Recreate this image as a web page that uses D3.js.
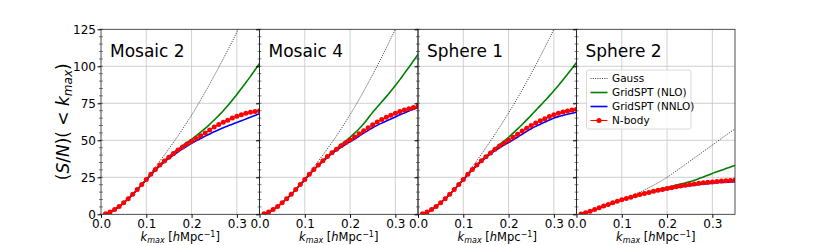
<!DOCTYPE html>
<html>
<head>
<meta charset="utf-8">
<script src="https://cdn.jsdelivr.net/npm/d3@7"></script>
<style>
  body { margin: 0; background: #fff; }
  svg { display: block; font-family: "DejaVu Sans", sans-serif; }
</style>
</head>
<body>
<svg width="817" height="245"></svg>
<script>
// k bins (h/Mpc)
var kmax = [0.01, 0.02, 0.03, 0.04, 0.05, 0.06, 0.07, 0.08, 0.09, 0.10,
            0.11, 0.12, 0.13, 0.14, 0.15, 0.16, 0.17, 0.18, 0.19, 0.20,
            0.21, 0.22, 0.23, 0.24, 0.25, 0.26, 0.27, 0.28, 0.29, 0.30,
            0.31, 0.32, 0.33, 0.34, 0.35];

var panelNames = ["Mosaic 2", "Mosaic 4", "Sphere 1", "Sphere 2"];
var yTicks = [0, 25, 50, 75, 100, 125];
var xTicks = [0.0, 0.1, 0.2, 0.3];

// Mosaic 2
var gauss1 = [0.3, 1.5, 3.2, 5.3, 7.8, 10.6, 13.7, 17.1, 20.6, 24.3, 28.1, 32, 36, 40.1, 44.3, 48.6, 53, 57.5, 62.2, 67, 72, 77.2, 82.5, 88, 93.6, 99.3, 105.1, 111, 117, 123.1, 129.3, 135.6, 142, 148.5, 155];
var nlo1   = [0.3, 1.5, 3.2, 5.3, 7.8, 10.5, 13.5, 16.8, 20.2, 23.5, 27, 30.3, 33.4, 36.3, 39, 41.6, 44, 46.3, 48.5, 50.6, 53, 55.5, 58, 60.8, 63.7, 66.8, 70, 73.5, 77.2, 81, 85, 89, 93.2, 97.5, 102];
var nnlo1  = [0.3, 1.4, 3.1, 5.2, 7.7, 10.4, 13.4, 16.6, 20, 23.2, 26.6, 29.8, 32.8, 35.5, 37.8, 40, 42.2, 44.2, 46.1, 47.9, 49.6, 51.2, 52.8, 54.3, 55.8, 57.2, 58.5, 59.7, 60.9, 62, 63.2, 64.4, 65.6, 66.8, 68];
var nbody1 = [0.3, 1.5, 3.2, 5.3, 7.8, 10.5, 13.5, 16.8, 20.2, 23.5, 27, 30.3, 33.3, 36, 38.5, 41, 43.4, 45.5, 47.5, 49.3, 51.2, 53, 55, 57, 59, 60.7, 62.2, 63.6, 65, 66.3, 67.3, 68.2, 68.9, 69.5, 70];

// Mosaic 4
var gauss2 = [0.3, 1.5, 3.2, 5.3, 7.8, 10.6, 13.7, 17.1, 20.6, 24.3, 28.1, 32, 36, 40.1, 44.3, 48.6, 53, 57.6, 62.4, 67.3, 72.4, 77.7, 83.1, 88.7, 94.4, 100.3, 106.3, 112.4, 118.7, 125, 131.4, 137.9, 144.5, 151.2, 158];
var nlo2   = [0.3, 1.5, 3.2, 5.3, 7.8, 10.5, 13.5, 16.8, 20.2, 23.5, 27, 30.3, 33.4, 36.4, 39.2, 41.9, 44.5, 47, 49.5, 52, 54.8, 57.8, 61.2, 65, 69, 72.5, 76, 79.5, 83.2, 87, 91, 95.2, 99.4, 103.7, 108];
var nnlo2  = [0.3, 1.4, 3.1, 5.2, 7.7, 10.4, 13.4, 16.6, 20, 23.2, 26.8, 30, 33, 35.8, 38.5, 41, 43.2, 45.3, 47.2, 49, 50.8, 52.8, 54.8, 56.7, 58.5, 60.1, 61.6, 63, 64.4, 65.8, 67.2, 68.5, 69.8, 71, 72.3];
var nbody2 = [0.3, 1.5, 3.2, 5.3, 7.8, 10.5, 13.5, 16.8, 20.2, 23.5, 27, 30.3, 33.3, 36.2, 39, 41.6, 44, 46.3, 48.3, 50.2, 52.3, 54.4, 56.5, 58.5, 60.5, 62.3, 64, 65.5, 66.9, 68.2, 69.4, 70.5, 71.4, 72.2, 73];

// Sphere 1
var gauss3 = [0.3, 1.5, 3.2, 5.3, 7.8, 10.6, 13.7, 17.1, 20.6, 24.3, 28.2, 32.2, 36.3, 40.6, 45, 49.5, 54.1, 58.8, 63.6, 68.5, 73.5, 78.7, 84, 89.5, 95.1, 100.8, 106.7, 112.7, 118.8, 125, 131.3, 137.7, 144.2, 150.8, 157.5];
var nlo3   = [0.3, 1.5, 3.2, 5.3, 7.8, 10.5, 13.5, 16.8, 20.2, 23.5, 27, 30.3, 33.4, 36.4, 39.2, 41.9, 44.5, 47, 49.5, 52, 54.8, 57.7, 60.7, 63.8, 67, 70.2, 73.4, 76.7, 80, 83.5, 87, 90.8, 94.6, 98.5, 102.5];
var nnlo3  = [0.3, 1.4, 3.1, 5.2, 7.7, 10.4, 13.4, 16.6, 20, 23.2, 26.7, 29.9, 32.9, 35.7, 38.3, 40.8, 43, 45, 46.8, 48.5, 50.3, 52.2, 54.1, 56, 57.8, 59.4, 60.9, 62.3, 63.7, 65, 66, 66.8, 67.6, 68.3, 69];
var nbody3 = [0.3, 1.5, 3.2, 5.3, 7.8, 10.5, 13.5, 16.8, 20.2, 23.5, 27, 30.3, 33.3, 36.2, 38.9, 41.5, 43.9, 46.1, 48.1, 50, 52, 54.1, 56.2, 58.2, 60, 61.7, 63.2, 64.6, 66, 67.3, 68.3, 69.1, 69.8, 70.4, 71];

// Sphere 2
var gauss4 = [0.2, 1, 2, 3.2, 4.5, 5.6, 6.8, 7.9, 9, 10.1, 11.2, 12.4, 13.7, 15, 16.5, 18, 19.6, 21.3, 23.1, 25, 27.1, 29.2, 31.4, 33.6, 35.8, 38, 40.2, 42.4, 44.6, 46.8, 49, 51.2, 53.4, 55.6, 57.7];
var nlo4   = [0.2, 1, 2, 3.2, 4.5, 5.6, 6.7, 7.8, 8.8, 9.8, 10.8, 11.7, 12.6, 13.5, 14.3, 15.1, 15.9, 16.6, 17.4, 18.2, 19, 19.7, 20.4, 21.2, 22, 23, 24.1, 25.2, 26.4, 27.6, 28.7, 29.8, 30.9, 32, 33];
var nnlo4  = [0.2, 1, 2, 3.2, 4.4, 5.5, 6.6, 7.7, 8.7, 9.7, 10.6, 11.5, 12.3, 13.1, 13.9, 14.6, 15.2, 15.8, 16.4, 17, 17.5, 18, 18.5, 18.9, 19.3, 19.7, 20.1, 20.4, 20.7, 21, 21.3, 21.5, 21.7, 21.9, 22];
var nbody4 = [0.2, 1, 2, 3.2, 4.5, 5.6, 6.7, 7.8, 8.8, 9.8, 10.7, 11.6, 12.5, 13.3, 14.1, 14.8, 15.5, 16.2, 16.8, 17.4, 18, 18.6, 19.1, 19.6, 20.1, 20.5, 20.9, 21.3, 21.6, 21.9, 22.2, 22.5, 22.7, 22.9, 23.1];

var panels = [
  {name: panelNames[0], gauss: gauss1, nlo: nlo1, nnlo: nnlo1, nbody: nbody1},
  {name: panelNames[1], gauss: gauss2, nlo: nlo2, nnlo: nnlo2, nbody: nbody2},
  {name: panelNames[2], gauss: gauss3, nlo: nlo3, nnlo: nnlo3, nbody: nbody3},
  {name: panelNames[3], gauss: gauss4, nlo: nlo4, nnlo: nnlo4, nbody: nbody4}
];

var svg = d3.select("svg"),
    margin = {top: 29.3, left: 101},
    pw = 158.5,
    ph = 185;

var x = d3.scaleLinear().domain([0, 0.35]).range([0, pw]),
    y = d3.scaleLinear().domain([0, 125]).range([ph, 0]);

var line = d3.line()
    .x(function(d) { return x(d[0]); })
    .y(function(d) { return y(d[1]); })
    .curve(d3.curveMonotoneX);

function pairs(vals) {
  return kmax.map(function(k, i) { return [k, vals[i]]; });
}

panels.forEach(function(p, i) {
  var g = svg.append("g")
      .attr("transform", "translate(" + (margin.left + i * pw) + "," + margin.top + ")");

  g.append("clipPath").attr("id", "clip" + i)
    .append("rect").attr("width", pw).attr("height", ph);

  // grid
  g.selectAll(".gx").data(xTicks.slice(1)).enter().append("line")
      .attr("x1", function(d) { return x(d); }).attr("x2", function(d) { return x(d); })
      .attr("y1", 0).attr("y2", ph)
      .attr("stroke", "#c4c4c4").attr("stroke-width", 0.8);
  g.selectAll(".gy").data(yTicks.slice(1, -1)).enter().append("line")
      .attr("x1", 0).attr("x2", pw)
      .attr("y1", function(d) { return y(d); }).attr("y2", function(d) { return y(d); })
      .attr("stroke", "#c4c4c4").attr("stroke-width", 0.8);

  var c = g.append("g").attr("clip-path", "url(#clip" + i + ")");

  c.append("path").attr("d", line(pairs(p.gauss)))
      .attr("fill", "none").attr("stroke", "#000").attr("stroke-width", 0.8)
      .attr("stroke-dasharray", "1,1.3");
  c.append("path").attr("d", line(pairs(p.nlo)))
      .attr("fill", "none").attr("stroke", "green").attr("stroke-width", 1.6);
  c.append("path").attr("d", line(pairs(p.nnlo)))
      .attr("fill", "none").attr("stroke", "blue").attr("stroke-width", 1.6);
  c.append("path").attr("d", line(pairs(p.nbody)))
      .attr("fill", "none").attr("stroke", "red").attr("stroke-width", 1.1);
  c.selectAll(".dot").data(pairs(p.nbody)).enter().append("circle")
      .attr("cx", function(d) { return x(d[0]); })
      .attr("cy", function(d) { return y(d[1]); })
      .attr("r", 2.5).attr("fill", "red");

  // minor y ticks
  g.selectAll(".my").data(d3.range(0, 126, 5)).enter().append("line")
      .attr("x1", -2).attr("x2", 2)
      .attr("y1", function(d) { return y(d); }).attr("y2", function(d) { return y(d); })
      .attr("stroke", "#333").attr("stroke-width", 0.6);

  // axes
  var ax = g.append("g")
      .attr("transform", "translate(0," + ph + ")")
      .call(d3.axisBottom(x).tickValues(xTicks).tickFormat(d3.format(".1f")).tickSize(3.5).tickPadding(1.5));
  ax.select(".domain").remove();
  ax.selectAll("text")
      .style("font-family", "'DejaVu Sans', sans-serif")
      .style("font-size", "12px").style("fill", "#000");

  var ay = g.append("g").call(d3.axisLeft(y).tickValues(yTicks).tickSize(3.5).tickPadding(1.5));
  ay.select(".domain").remove();
  ay.selectAll("text")
      .style("font-family", "'DejaVu Sans', sans-serif")
      .style("font-size", "12px").style("fill", "#000");
  if (i > 0) ay.selectAll("text").remove();

  g.append("rect").attr("width", pw).attr("height", ph)
      .attr("fill", "none").attr("stroke", "#222").attr("stroke-width", 0.8);

  g.append("text")
      .attr("x", 9).attr("y", 28)
      .attr("font-size", "17px")
      .text(p.name);

  var xl = g.append("text")
      .attr("x", pw / 2).attr("y", ph + 26.5)
      .attr("text-anchor", "middle")
      .attr("font-size", "11.5px");
  xl.append("tspan").attr("font-style", "italic").text("k");
  xl.append("tspan").attr("font-style", "italic").attr("font-size", "8px").attr("dy", 2).text("max");
  xl.append("tspan").attr("dy", -2).text(" [");
  xl.append("tspan").attr("font-style", "italic").text("h");
  xl.append("tspan").text("Mpc");
  xl.append("tspan").attr("font-size", "8px").attr("dy", -4).text("\u22121");
  xl.append("tspan").attr("dy", 4).text("]");
});

// y label
var yl = svg.append("text")
    .attr("transform", "translate(69," + (margin.top + ph / 2) + ") rotate(-90)")
    .attr("text-anchor", "middle")
    .attr("font-size", "17px");
yl.append("tspan").text("(");
yl.append("tspan").attr("font-style", "italic").text("S");
yl.append("tspan").text("/");
yl.append("tspan").attr("font-style", "italic").text("N");
yl.append("tspan").text(")( < ");
yl.append("tspan").attr("font-style", "italic").text("k");
yl.append("tspan").attr("font-style", "italic").attr("font-size", "12px").attr("dy", 3).text("max");
yl.append("tspan").attr("dy", -3).text(")");

// legend
var legendNames = ["Gauss", "GridSPT (NLO)", "GridSPT (NNLO)", "N-body"];
var lg = svg.append("g").attr("transform", "translate(586.5,70)");
lg.append("rect").attr("width", 104.5).attr("height", 59).attr("rx", 2)
    .attr("fill", "#fff").attr("fill-opacity", 0.85)
    .attr("stroke", "#d0d0d0").attr("stroke-width", 0.8);
legendNames.forEach(function(n, j) {
  var yy = 8.5 + j * 14;
  var ln = lg.append("line").attr("x1", 4).attr("x2", 21).attr("y1", yy).attr("y2", yy);
  if (j === 0) ln.attr("stroke", "#000").attr("stroke-width", 0.8).attr("stroke-dasharray", "1,1.3");
  if (j === 1) ln.attr("stroke", "green").attr("stroke-width", 1.6);
  if (j === 2) ln.attr("stroke", "blue").attr("stroke-width", 1.6);
  if (j === 3) {
    ln.attr("stroke", "red").attr("stroke-width", 1.1);
    lg.append("circle").attr("cx", 12.5).attr("cy", yy).attr("r", 2.5).attr("fill", "red");
  }
  lg.append("text").attr("x", 25.5).attr("y", yy + 3.7)
      .attr("font-size", "10.5px").text(n);
});
</script>
</body>
</html>
